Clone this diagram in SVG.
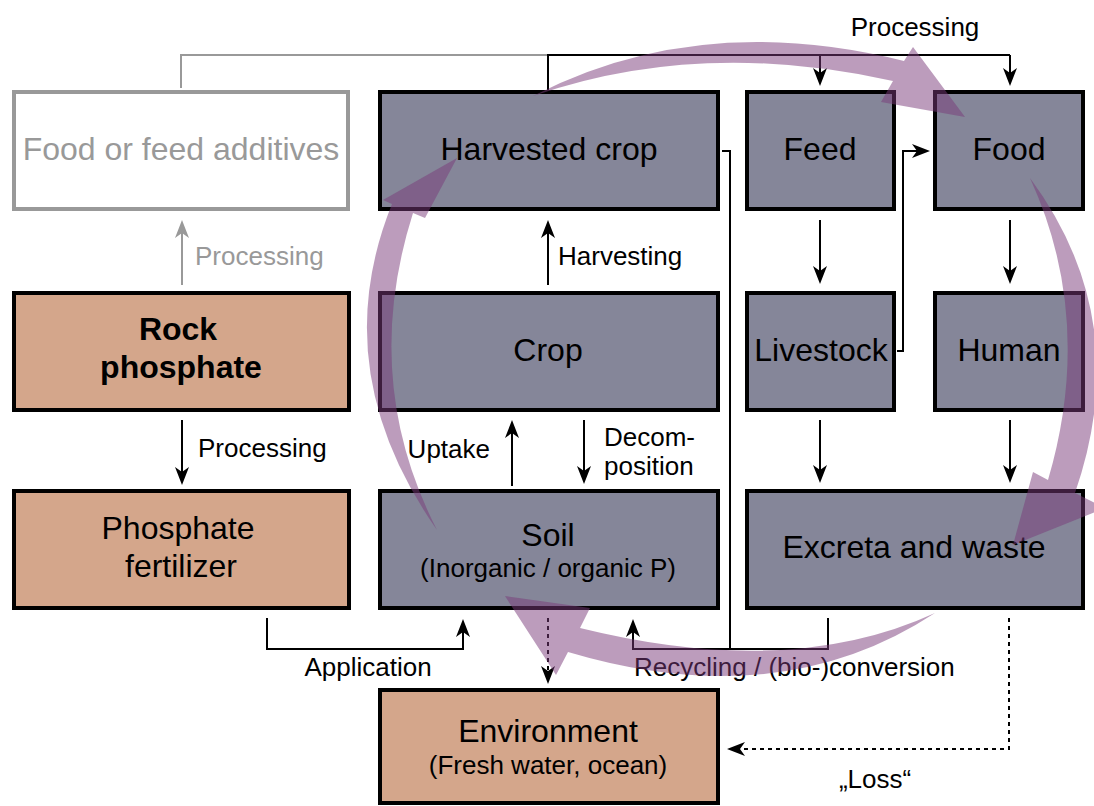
<svg xmlns="http://www.w3.org/2000/svg" width="1094" height="806" viewBox="0 0 1094 806">
<defs>
<style>
.box{fill:#858699;stroke:#000;stroke-width:4}
.tan{fill:#d4a68b;stroke:#000;stroke-width:4}
.gbox{fill:#fff;stroke:#999;stroke-width:4}
.t{font-family:"Liberation Sans",Arial,sans-serif;font-size:32px;fill:#000;text-anchor:middle}
.b{font-weight:bold}
.s{font-family:"Liberation Sans",Arial,sans-serif;font-size:26px;fill:#000}
.c{fill:none;stroke:#000;stroke-width:2}
.g{fill:none;stroke:#999;stroke-width:2}
.d{stroke-dasharray:4,4}
.arc{fill:#7a3a7a;fill-opacity:0.5}
</style>
<marker id="ah" markerUnits="userSpaceOnUse" markerWidth="18" markerHeight="14" refX="14" refY="7" orient="auto"><path d="M0,0 L18,7 L0,14 L5,7 Z" fill="#000"/></marker>
<marker id="ahg" markerUnits="userSpaceOnUse" markerWidth="18" markerHeight="14" refX="14" refY="7" orient="auto"><path d="M0,0 L18,7 L0,14 L5,7 Z" fill="#999"/></marker>
</defs>

<g id="food-additives"><rect class="gbox" x="14" y="92" width="334" height="117"/><text class="t" x="181" y="160" style="fill:#999">Food or feed additives</text></g>
<g id="harvested-crop"><rect class="box" x="380" y="92" width="338" height="117"/><text class="t" x="549" y="160">Harvested crop</text></g>
<g id="feed"><rect class="box" x="747" y="92" width="147" height="117"/><text class="t" x="820" y="160">Feed</text></g>
<g id="food"><rect class="box" x="935" y="92" width="148" height="117"/><text class="t" x="1009" y="160">Food</text></g>

<g id="rock-phosphate"><rect class="tan" x="14" y="293" width="335" height="117"/><text class="t b" x="178" y="340">Rock</text><text class="t b" x="181" y="378">phosphate</text></g>
<g id="crop"><rect class="box" x="380" y="293" width="338" height="117"/><text class="t" x="548" y="361">Crop</text></g>
<g id="livestock"><rect class="box" x="747" y="293" width="147" height="117"/><text class="t" x="821" y="361">Livestock</text></g>
<g id="human"><rect class="box" x="935" y="293" width="148" height="117"/><text class="t" x="1009" y="361">Human</text></g>

<g id="phosphate-fertilizer"><rect class="tan" x="14" y="491" width="335" height="117"/><text class="t" x="178" y="539">Phosphate</text><text class="t" x="181" y="577">fertilizer</text></g>
<g id="soil"><rect class="box" x="380" y="491" width="338" height="117"/><text class="t" x="548" y="546">Soil</text><text class="s" x="548" y="577" text-anchor="middle">(Inorganic / organic P)</text></g>
<g id="excreta"><rect class="box" x="747" y="491" width="336" height="117"/><text class="t" x="914" y="558">Excreta and waste</text></g>

<g id="environment"><rect class="tan" x="380" y="690" width="338" height="113"/><text class="t" x="548" y="742">Environment</text><text class="s" x="548" y="774" text-anchor="middle">(Fresh water, ocean)</text></g>

<g id="connectors">
<polyline class="g" points="181,88 181,55 548,55"/>
<polyline class="c" points="548,90 548,55 1010,55"/>
<line class="c" x1="820" y1="55" x2="820" y2="82" marker-end="url(#ah)"/>
<line class="c" x1="1010" y1="55" x2="1010" y2="82" marker-end="url(#ah)"/>
<line class="g" x1="182" y1="285" x2="182" y2="224" marker-end="url(#ahg)"/>
<line class="c" x1="548" y1="285" x2="548" y2="224" marker-end="url(#ah)"/>
<line class="c" x1="182" y1="420" x2="182" y2="481" marker-end="url(#ah)"/>
<line class="c" x1="512" y1="486" x2="512" y2="424" marker-end="url(#ah)"/>
<line class="c" x1="584" y1="420" x2="584" y2="480" marker-end="url(#ah)"/>
<line class="c" x1="820" y1="220" x2="820" y2="280" marker-end="url(#ah)"/>
<line class="c" x1="1010" y1="220" x2="1010" y2="280" marker-end="url(#ah)"/>
<line class="c" x1="820" y1="420" x2="820" y2="479" marker-end="url(#ah)"/>
<line class="c" x1="1010" y1="420" x2="1010" y2="479" marker-end="url(#ah)"/>
<polyline class="c" points="897,351 903,351 903,151 926,151" marker-end="url(#ah)"/>
<polyline class="c" points="722,151 730,151 730,649"/>
<polyline class="c" points="828,618 828,649 633,649 633,623" marker-end="url(#ah)"/>
<polyline class="c" points="267,618 267,649 463,649 463,623" marker-end="url(#ah)"/>
<line class="c d" x1="548" y1="618" x2="548" y2="680" marker-end="url(#ah)"/>
<polyline class="c d" points="1009,618 1009,749 731,749" marker-end="url(#ah)"/>
</g>

<g id="labels">
<text class="s" x="915" y="36" text-anchor="middle">Processing</text>
<text class="s" x="195" y="265" style="fill:#999">Processing</text>
<text class="s" x="558" y="265">Harvesting</text>
<text class="s" x="198" y="457">Processing</text>
<text class="s" x="490" y="458" text-anchor="end">Uptake</text>
<text class="s" x="604" y="446">Decom-</text>
<text class="s" x="604" y="475">position</text>
<text class="s" x="368" y="676" text-anchor="middle">Application</text>
<text class="s" x="634" y="676">Recycling / (bio-)conversion</text>
<text class="s" x="875" y="788" text-anchor="middle">„Loss“</text>
</g>

<g id="cycle">
<path class="arc" d="M533,96 Q700,10 904,61 L913,47 L965,117 L881,102 L893,81 Q700,38 533,96 Z"/>
<path class="arc" d="M1030,178 Q1135,320 1075,493 L1105,508 L1013,545 L1033,472 L1048,480 Q1095,320 1030,178 Z"/>
<path class="arc" d="M935,613 Q790,680 580,628 L590,608 L505,596 L556,675 L568,652 Q780,715 935,613 Z"/>
<path class="arc" d="M437,530 Q325,370 392,204 L383,200 L457,158 L425,218 L413,213 Q360,380 437,530 Z"/>
</g>
</svg>
